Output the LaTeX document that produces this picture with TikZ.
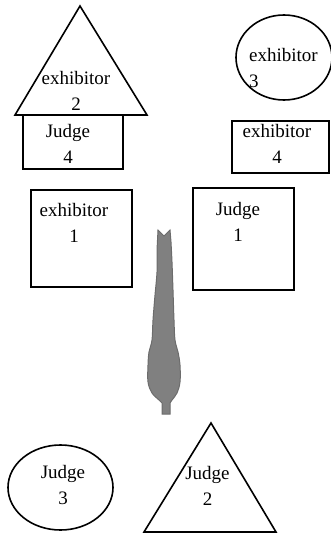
\documentclass[tikz,border=0pt]{standalone}
\usepackage{fontspec}
\setmainfont{Liberation Serif}
\usetikzlibrary{shapes.geometric}

\begin{document}
\begin{tikzpicture}[x=1pt, y=-1pt, line width=1.6pt,
  box/.style={rectangle, draw, inner sep=0pt},
  oval/.style={ellipse, draw, inner sep=0pt},
  lbl/.style={align=center, inner sep=0pt, font=\fontsize{19}{26}\selectfont},
  body/.style={fill={rgb,255:red,128;green,128;blue,128}, draw={rgb,255:red,108;green,108;blue,108}, line width=1pt}]
\useasboundingbox (0,0) rectangle (331,535);
% boxes and ovals
\foreach \n/\x/\y/\w/\h in {j4box/73/142/100/54, ex4box/280.5/147/97/52, ex1box/81.5/238.5/101/97, j1box/243.5/239/101/102}{
    \node[box, minimum width=\w pt, minimum height=\h pt] (\n) at (\x,\y) {};}
\node[oval, minimum width=96pt, minimum height=85pt] (ex3oval) at (284,57.5) {};
\node[oval, minimum width=105pt, minimum height=85pt] (j3oval) at (60.5,487.5) {};
% triangles
\draw (80,6) -- (147,115) -- (15,115) -- cycle;
\draw (211,423) -- (276,532) -- (144,532) -- cycle;
% labels
\foreach \n/\x/\y/\t/\k in {ex2/76/91/exhibitor/2, j4/68/144/Judge/4, ex4/277/144/exhibitor/4, ex1/74/223/exhibitor/1, j1/238/222/Judge/1, j3/63/485/Judge/3, j2/207.5/486/Judge/2}{
    \node[lbl] (\n) at (\x,\y) {\t\\\k};}
\node[lbl, align=left] (ex3) at (283.5,68) {exhibitor\\3};
% figure in the middle
\draw[body] (158,230) -- (164,236) -- (170,230)
  -- plot[smooth, tension=0.6] coordinates {(171,242) (172,262) (173,290) (174,320) (175,340) (178,352) (180,365) (180,382) (177,393) (172,400) (170,403)}
  -- (170,414) -- (162,414)
  -- plot[smooth, tension=0.6] coordinates {(162,403) (159,400) (152,393) (148,382) (148,365) (149,352) (152,340) (153,320) (155,295) (157,272) (157,250)}
  -- cycle;
\end{tikzpicture}
\end{document}
